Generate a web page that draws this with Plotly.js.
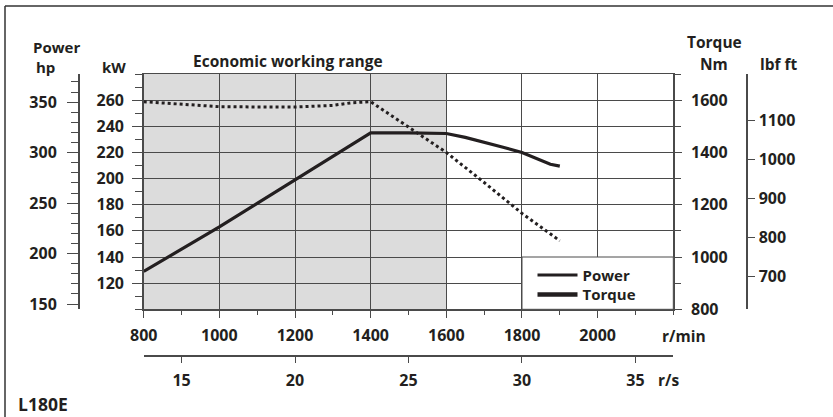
<!DOCTYPE html>
<html>
<head>
<meta charset="utf-8">
<script src="https://cdn.plot.ly/plotly-3.0.1.min.js"></script>
<style>
html,body{margin:0;padding:0;background:#fff;}
#chart{width:833px;height:417px;}
</style>
</head>
<body>
<div id="chart"></div>
<script>
// ---------- data ----------
const rpmPower = [800, 900, 1000, 1100, 1200, 1300, 1400, 1500, 1600, 1650, 1700, 1750, 1800, 1825, 1850, 1875, 1900];
const powerKW  = [129, 146, 163, 181, 199, 217, 235, 235, 234.5, 231.5, 228, 224, 220, 217, 213.5, 211, 209.5];

const rpmTorque = [800, 900, 1000, 1100, 1200, 1300, 1350, 1400, 1450, 1500, 1600, 1700, 1800, 1900];
const torqueNm  = [1594, 1585, 1575, 1574, 1574, 1580, 1590, 1594, 1546, 1498, 1400, 1285, 1167, 1062];

const econRange = [800, 1600];
const rpmRange = [800, 2200];
const rpmTicks = [800, 1000, 1200, 1400, 1600, 1800, 2000];
const rpsTicks = [15, 20, 25, 30, 35];
const kwRange = [100, 280];
const kwTicks = [120, 140, 160, 180, 200, 220, 240, 260];
const nmRange = [800, 1700];
const nmTicks = [800, 1000, 1200, 1400, 1600];
const hpRange = [144.8, 377.9];
const hpTicks = [150, 200, 250, 300, 350];
const lbfRange = [614.6, 1218.5];
const lbfTicks = [700, 800, 900, 1000, 1100];
const seriesNames = ['Power', 'Torque'];

// ---------- geometry helpers ----------
const W = 833, H = 417, L = 60, R = 60, T = 74, B = 62;
const PW = W - L - R, PH = H - T - B;
const px = x => (x - L) / PW;
const py = y => (H - B - y) / PH;

const ink = '#231f20';
const gridC = '#4a4a4a';
const FONT = 'Open Sans, Noto Sans, sans-serif';
const tf = (s) => ({family: FONT, size: s, color: ink, weight: 'bold'});

const xDomain = [px(143.7), px(673.3)];
const yDomain = [py(309.3), 1];

const traces = [
  {x: rpmPower, y: powerKW, xaxis: 'x', yaxis: 'y', mode: 'lines', showlegend: false,
   line: {color: ink, width: 3.2}, hoverinfo: 'skip'},
  {x: rpmTorque, y: torqueNm, xaxis: 'x', yaxis: 'y2', mode: 'lines', showlegend: false,
   line: {color: ink, width: 3, dash: 'dot'}, hoverinfo: 'skip'},
  {x: [null], y: [null], xaxis: 'x2', yaxis: 'y3', mode: 'lines', name: seriesNames[0],
   legend: 'legend', line: {color: ink, width: 3}},
  {x: [null], y: [null], xaxis: 'x', yaxis: 'y4', mode: 'lines', name: seriesNames[1],
   legend: 'legend2', line: {color: ink, width: 4.5}}
];

const axBase = {
  showline: true, linecolor: gridC, linewidth: 1.5, zeroline: false,
  tickcolor: gridC, tickwidth: 1, ticks: 'outside', fixedrange: true,
  tickfont: tf(16)
};

const legBase = {xanchor: 'left', yanchor: 'middle', bgcolor: 'rgba(0,0,0,0)', borderwidth: 0,
                 font: tf(15), itemwidth: 40, tracegroupgap: 0};

const layout = {
  width: W, height: H,
  margin: {l: L, r: R, t: T, b: B, pad: 0},
  paper_bgcolor: '#fff', plot_bgcolor: 'rgba(0,0,0,0)',
  showlegend: true,
  legend: Object.assign({}, legBase, {x: px(532.5), y: py(275.2)}),
  legend2: Object.assign({}, legBase, {x: px(532.5), y: py(294.8)}),
  xaxis: Object.assign({}, axBase, {
    domain: xDomain, range: rpmRange, anchor: 'y',
    tickmode: 'array', tickvals: rpmTicks, ticktext: rpmTicks.map(String),
    ticklen: 7, mirror: true, showgrid: true, gridcolor: gridC, gridwidth: 1,
    ticklabelstandoff: 4,
    minor: {tickmode: 'linear', tick0: 0, dtick: 100, ticks: 'outside', ticklen: 4, tickcolor: gridC, showgrid: false}
  }),
  xaxis2: Object.assign({}, axBase, {
    overlaying: 'x', anchor: 'free', position: 0, side: 'bottom',
    range: rpmRange.map(v => v / 60),
    tickmode: 'array', tickvals: rpsTicks, ticktext: rpsTicks.map(String),
    ticklen: 6, showgrid: false, ticklabelstandoff: 4
  }),
  yaxis: Object.assign({}, axBase, {
    domain: yDomain, range: kwRange, anchor: 'x', side: 'left',
    tickmode: 'array', tickvals: kwTicks, ticktext: kwTicks.map(String),
    ticklen: 10, showgrid: true, gridcolor: gridC, gridwidth: 1, ticklabelstandoff: 5,
    minor: {tickmode: 'linear', tick0: 0, dtick: 10, ticks: 'outside', ticklen: 7, tickcolor: gridC, showgrid: false}
  }),
  yaxis2: Object.assign({}, axBase, {
    overlaying: 'y', anchor: 'x', side: 'right', range: nmRange,
    tickmode: 'array', tickvals: nmTicks, ticktext: nmTicks.map(String),
    ticklen: 7, showgrid: false, ticklabelstandoff: 6,
    minor: {tickmode: 'linear', tick0: 0, dtick: 100, ticks: 'outside', ticklen: 6, tickcolor: gridC, showgrid: false}
  }),
  yaxis3: Object.assign({}, axBase, {
    overlaying: 'y', anchor: 'free', position: px(78), side: 'left', range: hpRange,
    tickmode: 'array', tickvals: hpTicks, ticktext: hpTicks.map(String),
    ticklen: 11, showgrid: false, ticklabelstandoff: 7,
    minor: {tickmode: 'linear', tick0: 0, dtick: 10, ticks: 'outside', ticklen: 7, tickcolor: gridC, showgrid: false}
  }),
  yaxis4: Object.assign({}, axBase, {
    overlaying: 'y', anchor: 'free', position: px(746), side: 'right', range: lbfRange,
    tickmode: 'array', tickvals: lbfTicks, ticktext: lbfTicks.map(String),
    ticklen: 7, showgrid: false, ticklabelstandoff: 1
  }),
  shapes: [
    {type: 'rect', xref: 'x', yref: 'y domain', x0: econRange[0], x1: econRange[1], y0: 0, y1: 1,
     fillcolor: '#dcdcdc', line: {width: 0}, layer: 'below'},
    {type: 'rect', xref: 'x', yref: 'y', x0: 1800, x1: rpmRange[1], y0: kwRange[0], y1: 140,
     fillcolor: '#ffffff', line: {color: gridC, width: 1}, layer: 'above'},
    {type: 'line', xref: 'paper', yref: 'paper', x0: px(5), x1: px(833), y0: py(6), y1: py(6),
     line: {color: '#333', width: 1.5}},
    {type: 'line', xref: 'paper', yref: 'paper', x0: px(5), x1: px(5), y0: py(6), y1: py(417),
     line: {color: '#333', width: 1.5}}
  ],
  annotations: [
    ['Power', 56.7, 47, 15], ['hp', 45, 67, 15], ['kW', 114, 67, 15],
    ['Economic working range', 287.5, 61, 15.5],
    ['Torque', 714, 42.5, 15.5], ['Nm', 714, 63.5, 15.5], ['lbf ft', 779, 63.5, 15.5],
    ['r/min', 684, 336, 15.5], ['r/s', 668.5, 380, 15.5], ['L180E', 43, 404, 17.5]
  ].map(a => ({text: a[0], xref: 'paper', yref: 'paper', x: px(a[1]), y: py(a[2]),
               xanchor: 'center', yanchor: 'middle', showarrow: false, font: tf(a[3])}))
};

Plotly.newPlot('chart', traces, layout, {staticPlot: true, displayModeBar: false});
</script>
</body>
</html>
